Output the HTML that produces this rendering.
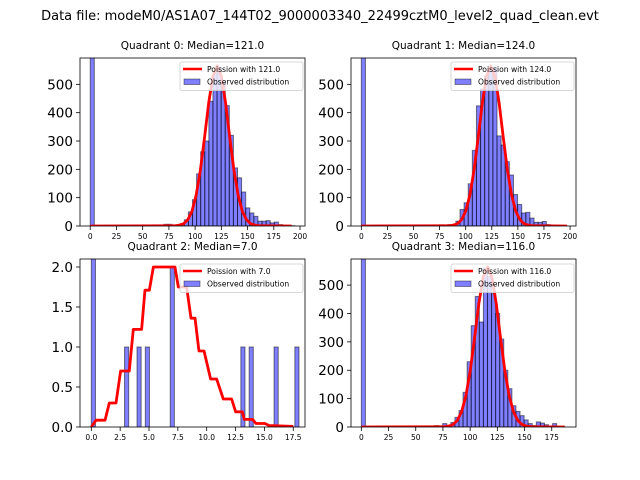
<!DOCTYPE html>
<html><head><meta charset="utf-8">
<style>
html,body{margin:0;padding:0;background:#fff;}
svg{display:block;font-family:"DejaVu Sans","Liberation Sans",sans-serif;}
</style></head>
<body>
<svg id="fig" width="640" height="480" viewBox="0 0 640 480" xmlns="http://www.w3.org/2000/svg">
<rect width="640" height="480" fill="#fff"/>
<text x="320" y="20" font-size="13" text-anchor="middle">Data file: modeM0/AS1A07_144T02_9000003340_22499cztM0_level2_quad_clean.evt</text>
</svg>
<script>
// ---- data ----
const titles = ["Quadrant 0: Median=121.0","Quadrant 1: Median=124.0","Quadrant 2: Median=7.0","Quadrant 3: Median=116.0"];
const legendLabels = ["Poission with 121.0","Poission with 124.0","Poission with 7.0","Poission with 116.0"];
const binWidths = [3.9, 3.94, 0.36, 3.74];
const counts0 = [3000,0,0,0,0,0,0,0,0,0,0,0,0,0,0,0,0,3,6,6,1,2,8,22,50,93,184,262,300,440,540,560,510,425,320,205,170,120,64,46,34,17,17,19,11,14,5,1,0,1];
const counts1 = [3000,0,0,0,2,0,0,0,2,0,0,0,0,0,0,0,0,0,2,4,0,5,3,17,58,82,149,267,424,483,530,560,560,318,286,227,180,111,76,46,48,28,13,13,16,5,2,0,0,1];
const counts2 = [50,0,0,0,0,0,0,0,1,0,0,1,0,1,0,0,0,0,0,2,0,0,0,0,0,0,0,0,0,0,0,0,0,0,0,0,1,0,1,0,0,0,0,0,1,0,0,0,0,1];
const counts3 = [3000,0,0,0,0,0,0,0,0,0,0,0,0,0,0,0,0,3,5,3,12,2,16,34,58,122,230,357,460,370,560,530,470,400,310,200,135,75,55,40,25,12,5,18,14,8,3,12,2,1];
const curveX0 = [0,77,81,85,89,93,97,101,105,109,113,117,121,125,129,133,137,141,145,149,153,157,161,165,192];
const curveY0 = [0,1,1,3,8,22,52,109,197,313,436,529,565,529,436,313,197,109,52,22,8,3,1,1,0];
const curveX1 = [0,80,84,88,92,96,100,104,108,112,116,120,124,128,132,136,140,144,148,152,156,160,164,168,197];
const curveY1 = [0,1,1,3,8,22,52,109,197,313,436,529,565,529,436,313,197,109,52,22,8,3,1,1,0];
const curveX2 = [0,0.41,1.19,1.56,2.14,2.54,3.29,3.64,4.36,4.65,5.03,5.38,7.25,7.54,8.26,8.64,8.99,9.33,9.77,10.34,10.86,11.44,12.16,12.51,13.09,13.26,13.98,14.27,15.05,15.4,17.51];
const curveY2 = [0,0.085,0.085,0.30,0.30,0.70,0.70,1.22,1.22,1.71,1.71,2.0,2.0,1.75,1.75,1.36,1.36,0.95,0.95,0.60,0.60,0.35,0.35,0.19,0.19,0.095,0.095,0.044,0.044,0.019,0.008];
const curveX3 = [0,72,76,80,84,88,92,96,100,104,108,112,116,120,124,128,132,136,140,144,148,152,156,160,187];
const curveY3 = [0,1,1,3,8,22,52,108,196,312,435,528,564,528,435,312,196,108,52,22,8,3,1,1,0];
const xTicks01 = [0,25,50,75,100,125,150,175,200];
const xTicks2 = [0,2.5,5,7.5,10,12.5,15,17.5];
const xTicks3 = [0,25,50,75,100,125,150,175];
const yTicksCount = [0,100,200,300,400,500];
const yTicks2 = [0,0.5,1,1.5,2];

const NS = "http://www.w3.org/2000/svg";
const svg = document.getElementById('fig');
function mk(tag, attrs, parent){
  const e = document.createElementNS(NS, tag);
  for (const k in attrs) e.setAttribute(k, attrs[k]);
  (parent||svg).appendChild(e); return e;
}
const panels = [
  {L:80,T:58,W:225,H:168,x0:-9.75,x1:204.75,y1:593,counts:counts0,cx:curveX0,cy:curveY0,xt:xTicks01,yt:yTicksCount,fmt:v=>String(v),xfmt:v=>String(v)},
  {L:351,T:58,W:225,H:168,x0:-9.9,x1:205.7,y1:593,counts:counts1,cx:curveX1,cy:curveY1,xt:xTicks01,yt:yTicksCount,fmt:v=>String(v),xfmt:v=>String(v)},
  {L:80,T:259,W:225,H:168,x0:-0.98,x1:18.52,y1:2.1,counts:counts2,cx:curveX2,cy:curveY2,xt:xTicks2,yt:yTicks2,fmt:v=>v.toFixed(1),xfmt:v=>v.toFixed(1)},
  {L:351,T:259,W:225,H:168,x0:-9.5,x1:197.3,y1:592,counts:counts3,cx:curveX3,cy:curveY3,xt:xTicks3,yt:yTicksCount,fmt:v=>String(v),xfmt:v=>String(v)}
];
panels.forEach((p,i)=>{
  const xs = v => p.L + (v - p.x0)/(p.x1 - p.x0)*p.W;
  const ys = v => p.T + p.H - v/p.y1*p.H;
  const g = mk('g',{});
  
  
  const cp = mk('clipPath',{id:'clip'+i}, g);
  mk('rect',{x:p.L,y:p.T,width:p.W,height:p.H}, cp);
  const bars = mk('g',{'clip-path':'url(#clip'+i+')'}, g);
  
  
  const w = binWidths[i];
  p.counts.forEach((c,k)=>{
    if (c <= 0) return;
    const x = xs(k*w), x2 = xs((k+1)*w);
    const r = mk('rect',{x:x,y:ys(c),width:x2-x,height:ys(0)-ys(c),fill:'rgba(0,0,255,0.5)',stroke:'rgba(0,0,0,0.5)','stroke-width':1}, bars);
    
    
  });
  let d = '';
  p.cx.forEach((x,k)=>{ d += (k? 'L':'M') + xs(x).toFixed(2) + ' ' + ys(p.cy[k]).toFixed(2); });
  const line = mk('path',{d:d,fill:'none',stroke:'#ff0000','stroke-width':2.8,'stroke-linejoin':'round','clip-path':'url(#clip'+i+')'}, g);
  
  
  const frame = mk('rect',{x:p.L,y:p.T,width:p.W,height:p.H,fill:'none',stroke:'#000','stroke-width':0.8}, g);
  
  
  p.xt.forEach(v=>{
    const x = xs(v);
    mk('line',{x1:x,x2:x,y1:p.T+p.H,y2:p.T+p.H+4,stroke:'#000','stroke-width':0.8}, g);
    const t = mk('text',{x:x,y:p.T+p.H+13,'font-size':7.5,'text-anchor':'middle'}, g);
    
    
    t.textContent = p.xfmt(v);
  });
  p.yt.forEach(v=>{
    const y = ys(v);
    mk('line',{x1:p.L-4,x2:p.L,y1:y,y2:y,stroke:'#000','stroke-width':0.8}, g);
    const t = mk('text',{x:p.L-7,y:y+5,'font-size':13.5,'text-anchor':'end'}, g);
    
    
    t.textContent = p.fmt(v);
  });
  const tt = mk('text',{x:p.L+p.W/2,y:p.T-9,'font-size':10.5,'text-anchor':'middle'}, g);
  
  
  tt.textContent = titles[i];
  const lx = p.L+p.W-125, ly = p.T+(i===2||i===3?5:4);
  const lg = mk('g',{}, g);
  
  
  mk('rect',{x:lx,y:ly,width:123,height:28.5,rx:2,fill:'rgba(255,255,255,0.8)',stroke:'#ccc','stroke-width':0.8}, lg);
  mk('line',{x1:lx+3,x2:lx+22,y1:ly+7,y2:ly+7,stroke:'#ff0000','stroke-width':2.5}, lg);
  mk('rect',{x:lx+4,y:ly+17,width:16,height:5.5,fill:'rgba(0,0,255,0.5)',stroke:'rgba(0,0,0,0.5)','stroke-width':0.8}, lg);
  const t1 = mk('text',{x:lx+27,y:ly+10,'font-size':7.6}, lg);
  
  
  t1.textContent = legendLabels[i];
  const t2 = mk('text',{x:lx+27,y:ly+22.5,'font-size':7.6}, lg);
  
  
  t2.textContent = 'Observed distribution';
});
</script>
</body></html>
